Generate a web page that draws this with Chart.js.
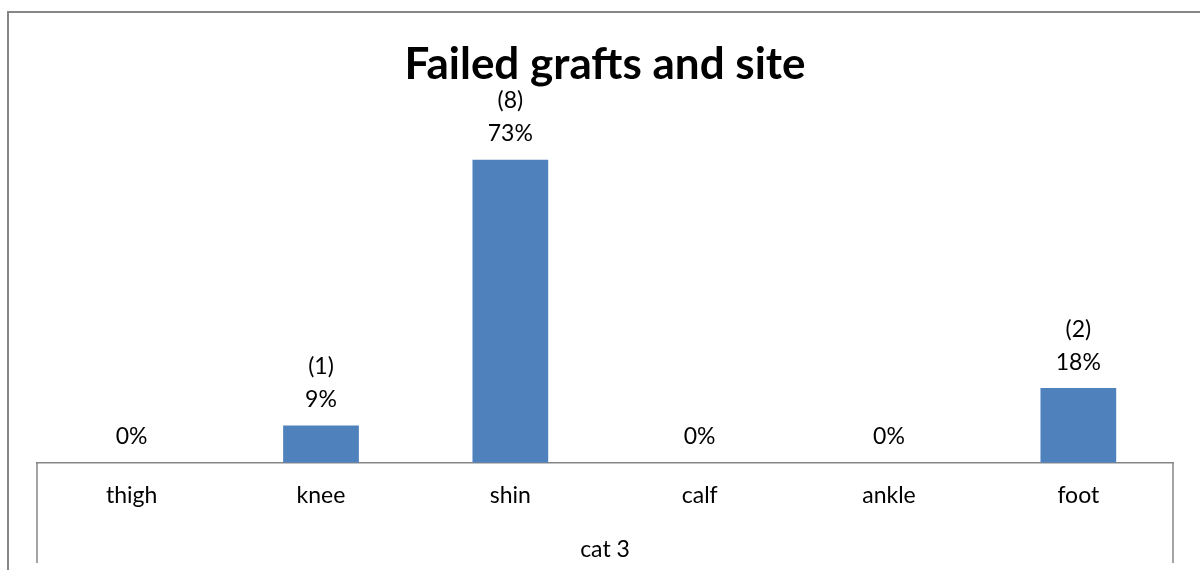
<!DOCTYPE html>
<html>
<head>
<meta charset="utf-8">
<script src="https://cdn.jsdelivr.net/npm/chart.js@4.4.0/dist/chart.umd.min.js"></script>
<style>
    html, body { margin: 0; padding: 0; background: #fff; }
    #wrap { width: 1200px; height: 570px; }
</style>
</head>
<body>
<div id="wrap"><canvas id="graftChart" width="1200" height="570"></canvas></div>
<script>
var siteLabels = ['thigh', 'knee', 'shin', 'calf', 'ankle', 'foot'];
var failedCounts = [0, 1, 8, 0, 0, 2];
var failedPercent = [0, 9, 73, 0, 0, 18];
var groupLabel = 'cat 3';
var chartTitle = 'Failed grafts and site';

var fontFamily = "Lato, 'Open Sans', sans-serif";
var lineGray = '#868686';

// frame, axis box sides and data labels
var decorPlugin = {
    id: 'decor',
    afterDraw: function (chart) {
        var ctx = chart.ctx;
        var area = chart.chartArea;
        ctx.save();
        ctx.strokeStyle = lineGray;
        ctx.lineWidth = 2;
        ctx.beginPath();
        ctx.moveTo(8, 570);
        ctx.lineTo(8, 12);
        ctx.lineTo(1200, 12);
        ctx.stroke();

        ctx.lineWidth = 1.5;
        ctx.beginPath();
        ctx.moveTo(area.left, area.bottom);
        ctx.lineTo(area.left, 563);
        ctx.moveTo(area.right, area.bottom);
        ctx.lineTo(area.right, 563);
        ctx.stroke();

        ctx.fillStyle = '#000';
        ctx.font = '23px ' + fontFamily;
        ctx.textAlign = 'center';
        ctx.textBaseline = 'middle';
        var meta = chart.getDatasetMeta(0);
        meta.data.forEach(function (bar, i) {
            var x = bar.x;
            var y = bar.y;
            ctx.fillText(failedPercent[i] + '%', x, y - 26);
            if (failedCounts[i] > 0) {
                ctx.fillText('(' + failedCounts[i] + ')', x, y - 59);
            }
        });
        ctx.restore();
    }
};

new Chart(document.getElementById('graftChart').getContext('2d'), {
    type: 'bar',
    data: {
        labels: siteLabels,
        datasets: [{
            data: failedPercent,
            backgroundColor: '#4F81BD',
            borderWidth: 0,
            categoryPercentage: 1,
            barPercentage: 0.4
        }]
    },
    options: {
        responsive: false,
        animation: false,
        layout: {
            padding: { left: 37, right: 27, top: 0, bottom: 7 }
        },
        scales: {
            x: {
                grid: { display: false, drawTicks: false },
                border: { display: true, color: lineGray, width: 1.5 },
                ticks: {
                    color: '#000',
                    padding: 19,
                    font: { family: fontFamily, size: 23 }
                },
                title: {
                    display: true,
                    text: groupLabel,
                    color: '#000',
                    padding: { top: 7, bottom: 0 },
                    font: { family: fontFamily, size: 23 }
                }
            },
            y: {
                display: false,
                min: 0,
                max: 80
            }
        },
        plugins: {
            legend: { display: false },
            tooltip: { enabled: false },
            title: {
                display: true,
                text: chartTitle,
                color: '#000',
                padding: { top: 38, bottom: 40 },
                font: { family: fontFamily, size: 44, weight: 'bold' }
            }
        }
    },
    plugins: [decorPlugin]
});
</script>
</body>
</html>
